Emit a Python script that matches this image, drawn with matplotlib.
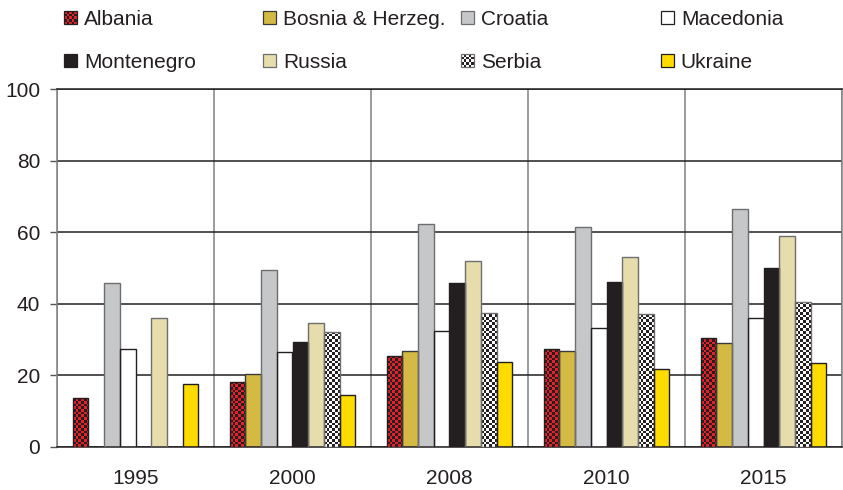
import numpy as np
import matplotlib
matplotlib.use("Agg")
import matplotlib.pyplot as plt
from matplotlib.colors import ListedColormap
from matplotlib.patches import Rectangle
from matplotlib.legend_handler import HandlerBase

plt.rcParams['font.family'] = ['Liberation Sans', 'DejaVu Sans']

# data
years = ['1995', '2000', '2008', '2010', '2015']
countries = ['Albania', 'Bosnia & Herzeg.', 'Croatia', 'Macedonia',
             'Montenegro', 'Russia', 'Serbia', 'Ukraine']
albania = [13.6, 18.2, 25.4, 27.3, 30.4]
bosnia = [np.nan, 20.4, 26.9, 26.7, 29.0]
croatia = [45.7, 49.4, 62.2, 61.4, 66.5]
macedonia = [27.3, 26.6, 32.5, 33.2, 36.0]
montenegro = [np.nan, 29.3, 45.8, 46.0, 50.0]
russia = [36.1, 34.6, 52.0, 53.0, 58.9]
serbia = [np.nan, 32.1, 37.3, 37.2, 40.5]
ukraine = [17.6, 14.6, 23.7, 21.8, 23.5]
series = [albania, bosnia, croatia, macedonia, montenegro, russia, serbia, ukraine]

# style per series: face colour, checker colour (None = plain), edge colour
styles = [
    ('#e8202a', '#231f20', '#231f20'),
    ('#d4b943', None, '#3a3a3a'),
    ('#c6c7c9', None, '#6d6e70'),
    ('#ffffff', None, '#231f20'),
    ('#231f20', None, '#231f20'),
    ('#e7dcac', None, '#6d6e70'),
    ('#ffffff', '#231f20', '#6d6e70'),
    ('#ffdc00', None, '#231f20'),
]

FS = 15
W, H = 843, 490
fig = plt.figure(figsize=(W / 100, H / 100), dpi=100)
ax_l, ax_r, ax_t, ax_b = 57, 842, 89, 447
ax = fig.add_axes([ax_l / W, 1 - ax_b / H, (ax_r - ax_l) / W, (ax_b - ax_t) / H])
ax.set_xlim(-0.5, len(years) - 0.5)
ax.set_ylim(0, 100)

px_x = (ax_r - ax_l) / len(years)   # pixels per x unit
px_y = (ax_b - ax_t) / 100.0        # pixels per y unit
cell = 2.7                          # checker square in pixels

x = np.arange(len(years))
bw = 0.1
for i, (vals, (fc, cc, ec)) in enumerate(zip(series, styles)):
    pos = x + (i - 3.5) * bw
    bars = ax.bar(pos, vals, width=bw, color=fc, edgecolor='none', zorder=2)
    ax.bar(pos, vals, width=bw, fill=False, edgecolor=ec, linewidth=1.0, zorder=4)
    if cc is None:
        continue
    for p in bars.patches:
        h = p.get_height()
        if not np.isfinite(h) or h <= 0:
            continue
        dx, dy = cell / px_x, cell / px_y
        nc = int(np.ceil(p.get_width() / dx))
        nr = int(np.ceil(h / dy))
        board = (np.add.outer(np.arange(nr), np.arange(nc)) % 2).astype(float)
        x0 = p.get_x()
        im = ax.imshow(board, cmap=ListedColormap([fc, cc]), interpolation='nearest',
                       extent=[x0, x0 + nc * dx, 0, nr * dy], origin='lower',
                       aspect='auto', zorder=3)
        im.set_clip_path(p)

ax.set_xlim(-0.5, len(years) - 0.5)
ax.set_ylim(0, 100)

ax.set_xticks(x)
ax.set_xticklabels(years)
ax.set_yticks(np.arange(0, 101, 20))
ax.set_xticks(np.arange(-0.5, len(years)), minor=True)
ax.tick_params(axis='x', which='both', length=0, pad=15.5, labelsize=FS, labelcolor='#231f20')
ax.tick_params(axis='y', length=5, width=1, color='#555555', pad=7, labelsize=FS,
               labelcolor='#231f20')
ax.grid(axis='y', which='major', color='#231f20', linewidth=1.1)
ax.grid(axis='x', which='minor', color='#808080', linewidth=1.1)
ax.set_axisbelow(True)
for s in ['left', 'right']:
    ax.spines[s].set_color('#808080')
    ax.spines[s].set_linewidth(1.1)
for s in ['top', 'bottom']:
    ax.spines[s].set_color('#231f20')
    ax.spines[s].set_linewidth(1.1)


class CheckerHandler(HandlerBase):
    def __init__(self, c0, c1, ec, n=5):
        super().__init__()
        self.c0, self.c1, self.ec, self.n = c0, c1, ec, n

    def create_artists(self, legend, orig_handle, xdescent, ydescent, width, height,
                       fontsize, trans):
        x0, y0 = -xdescent, -ydescent
        arts = [Rectangle((x0, y0), width, height, facecolor=self.c0,
                          edgecolor='none', transform=trans)]
        cw, ch = width / self.n, height / self.n
        for i in range(self.n):
            for j in range(self.n):
                if (i + j) % 2:
                    arts.append(Rectangle((x0 + i * cw, y0 + j * ch), cw, ch,
                                          facecolor=self.c1, edgecolor='none',
                                          transform=trans))
        arts.append(Rectangle((x0, y0), width, height, fill=False,
                              edgecolor=self.ec, linewidth=0.9, transform=trans))
        return arts


handles = []
hmap = {}
for (fc, cc, ec) in styles:
    h = Rectangle((0, 0), 1, 1, facecolor=fc, edgecolor=ec, linewidth=0.9)
    handles.append(h)
    if cc is not None:
        hmap[h] = CheckerHandler(fc, cc, ec)

col_x = [65, 264, 462, 662]
for c in range(4):
    idx = [c, c + 4]
    leg = fig.legend([handles[k] for k in idx], [countries[k] for k in idx],
                     loc='upper left', bbox_to_anchor=((col_x[c] - 1) / W, 1 - 10 / H),
                     frameon=False, borderpad=0, borderaxespad=0,
                     handlelength=0.62, handleheight=0.62, handletextpad=0.33,
                     labelspacing=1.15, fontsize=FS, handler_map=hmap)
    for t in leg.get_texts():
        t.set_color('#231f20')

fig.savefig('out.png', dpi=100)
